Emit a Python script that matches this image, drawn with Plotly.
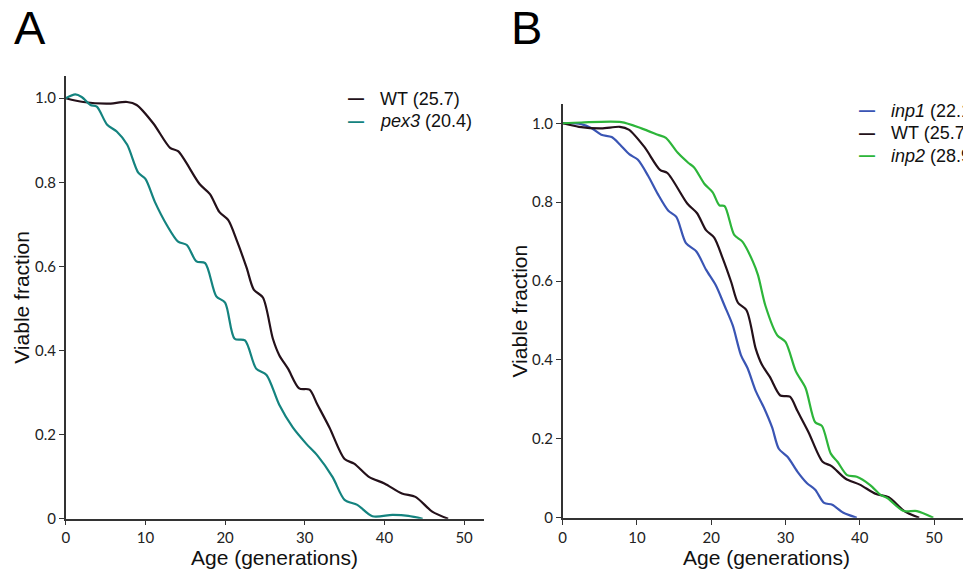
import plotly.graph_objects as go

# ---------------- data ----------------
wt_age = [0, 2.2, 5.2, 7.7, 8.9, 11, 13.1, 14.1, 16.8, 18.1, 19.3, 20.4, 21.5, 22.7, 23.6,
          24.75, 26, 26.8, 27.9, 29.3, 30.6, 31.6, 33.1, 35, 36.2, 38.1, 40, 42.2, 43.9, 46, 48]
wt_val = [1.0, 0.991, 0.987, 0.991, 0.984, 0.94, 0.882, 0.874, 0.796, 0.772, 0.729, 0.71, 0.66,
          0.597, 0.545, 0.526, 0.428, 0.389, 0.357, 0.31, 0.307, 0.271, 0.217, 0.142, 0.131,
          0.099, 0.084, 0.06, 0.052, 0.017, 0.0]

pex3_age = [0, 1.2, 2.0, 3.1, 3.9, 5.2, 6.4, 7.7, 9.1, 10, 11.2, 12.7, 14.1, 15.2, 16.4, 17.5,
            18.9, 20, 21.2, 22.5, 23.9, 25.2, 26.8, 28.5, 30.2, 31.6, 33.5, 35, 36.6, 38.5,
            41, 43, 44.8]
pex3_val = [1.0, 1.009, 1.003, 0.984, 0.98, 0.937, 0.921, 0.89, 0.823, 0.808, 0.753, 0.698,
            0.659, 0.651, 0.612, 0.608, 0.529, 0.514, 0.428, 0.424, 0.357, 0.342, 0.271, 0.217,
            0.178, 0.15, 0.099, 0.045, 0.033, 0.006, 0.009, 0.007, 0.0]

inp1_age = [0, 2.5, 3.9, 5.2, 6.6, 7.7, 9, 10.1, 11.5, 12.8, 14.2, 15.3, 16.6, 18, 19.3, 20.6,
            21.8, 22.9, 24, 24.9, 26, 27.1, 28.2, 29.1, 30.3, 31.6, 32.9, 34, 35.2, 36.3, 37.8,
            39.6]
inp1_val = [1.0, 0.998, 0.9875, 0.971, 0.965, 0.946, 0.921, 0.908, 0.867, 0.821, 0.779, 0.7625,
            0.696, 0.675, 0.629, 0.59, 0.5375, 0.4875, 0.4125, 0.379, 0.321, 0.279, 0.229,
            0.175, 0.154, 0.117, 0.0875, 0.071, 0.0375, 0.033, 0.0125, 0.0]

inp2_age = [0, 2.5, 7.9, 10.6, 12.8, 13.9, 15.5, 16.9, 17.7, 19.1, 20.2, 21.1, 21.8, 23.1, 24.2,
            25.6, 26.3, 27.3, 28.9, 30, 31.4, 32.7, 34, 34.9, 36.1, 37, 38.3, 39.6, 41.4, 42.8,
            43.7, 45.9, 47.7, 49.9]
inp2_val = [1.0, 1.002, 1.003, 0.987, 0.971, 0.963, 0.925, 0.9, 0.888, 0.846, 0.825, 0.792, 0.79,
            0.717, 0.7, 0.65, 0.615, 0.5375, 0.4625, 0.446, 0.371, 0.329, 0.242, 0.233, 0.1625,
            0.142, 0.108, 0.104, 0.083, 0.058, 0.05, 0.017, 0.017, 0.0]

x_ticks = [0, 10, 20, 30, 40, 50]
y_ticks = [0, 0.2, 0.4, 0.6, 0.8, 1.0]
y_tick_text = ["0", "0.2", "0.4", "0.6", "0.8", "1.0"]

C_WT = "#24111a"
C_PEX = "#14837f"
C_INP1 = "#3a55b4"
C_INP2 = "#2db53a"

legend_a = [("WT (25.7)", C_WT), ("<i>pex3</i> (20.4)", C_PEX)]
legend_b = [("<i>inp1</i> (22.1)", C_INP1), ("WT (25.7)", C_WT), ("<i>inp2</i> (28.9)", C_INP2)]

W, H = 963, 580

fig = go.Figure()

def line(x, y, color, xa, ya, width=2.2):
    fig.add_trace(go.Scatter(x=x, y=y, mode="lines", xaxis=xa, yaxis=ya,
                             line=dict(color=color, width=width, shape="spline", smoothing=0.8),
                             showlegend=False, hoverinfo="skip"))

line(wt_age, wt_val, C_WT, "x", "y")
line(pex3_age, pex3_val, C_PEX, "x", "y")
line(inp1_age, inp1_val, C_INP1, "x2", "y2")
line(wt_age, wt_val, C_WT, "x2", "y2")
line(inp2_age, inp2_val, C_INP2, "x2", "y2")

tickfont = dict(family="Lato, Carlito, sans-serif", size=15, color="#222222")
axcommon = dict(showgrid=False, zeroline=False, showline=True, linecolor="#333333",
                linewidth=1.5, ticks="outside", ticklen=5, tickwidth=1.2, tickcolor="#333333",
                tickfont=tickfont)

fig.update_layout(
    width=W, height=H,
    margin=dict(l=0, r=0, t=0, b=0),
    paper_bgcolor="white", plot_bgcolor="white",
    xaxis=dict(domain=[62 / W, 482 / W], range=[0, 52.5], tickvals=x_ticks, anchor="y",
               **axcommon),
    yaxis=dict(domain=[1 - 526 / H, 1 - 77 / H], range=[0, 1.053], tickvals=y_ticks,
               ticktext=y_tick_text, anchor="x", **axcommon),
    xaxis2=dict(domain=[561 / W, 1.0], range=[0, 53.9], tickvals=x_ticks, anchor="y2",
                **axcommon),
    yaxis2=dict(domain=[1 - 525 / H, 1 - 105 / H], range=[0, 1.05], tickvals=y_ticks,
                ticktext=y_tick_text, anchor="x2", **axcommon),
)

titlefont = dict(family="Liberation Sans, Arial, sans-serif", size=21, color="#111111")
anns = []
# axis titles
anns.append(dict(text="Age (generations)", x=272 / W, y=1 - 565 / H, xref="paper", yref="paper",
                 showarrow=False, font=titlefont, xanchor="center", yanchor="middle"))
anns.append(dict(text="Age (generations)", x=766 / W, y=1 - 565 / H, xref="paper", yref="paper",
                 showarrow=False, font=titlefont, xanchor="center", yanchor="middle"))
anns.append(dict(text="Viable fraction", x=18 / W, y=1 - 301 / H, xref="paper", yref="paper",
                 showarrow=False, font=titlefont, textangle=-90, xanchor="center",
                 yanchor="middle"))
anns.append(dict(text="Viable fraction", x=518 / W, y=1 - 315 / H, xref="paper", yref="paper",
                 showarrow=False, font=titlefont, textangle=-90, xanchor="center",
                 yanchor="middle"))
# panel letters
letterfont = dict(family="Liberation Sans, Arial, sans-serif", size=47, color="black")
anns.append(dict(text="A", x=8 / W, y=1 - 28 / H, xref="paper", yref="paper", showarrow=False,
                 font=letterfont, xanchor="left", yanchor="middle"))
anns.append(dict(text="B", x=507 / W, y=1 - 28 / H, xref="paper", yref="paper", showarrow=False,
                 font=letterfont, xanchor="left", yanchor="middle"))

# legends
legfont = dict(family="Liberation Sans, Arial, sans-serif", size=18, color="#111111")

def legend(items, x_dash, x_text, y0, dy):
    for i, (label, color) in enumerate(items):
        yy = 1 - (y0 + i * dy) / H
        anns.append(dict(text="<b>\u2014</b>", x=x_dash / W, y=yy, xref="paper", yref="paper",
                         showarrow=False, xanchor="center", yanchor="middle",
                         font=dict(family="Liberation Sans, Arial, sans-serif", size=16,
                                   color=color)))
        anns.append(dict(text=label, x=x_text / W, y=yy, xref="paper", yref="paper",
                         showarrow=False, xanchor="left", yanchor="middle", font=legfont))

legend(legend_a, 353, 376, 100, 22.7)
legend(legend_b, 867, 889, 112.3, 22.7)

fig.update_layout(annotations=anns)

fig.write_html("out.html", config={"displayModeBar": False},
               post_script="document.body.style.margin='0';")
